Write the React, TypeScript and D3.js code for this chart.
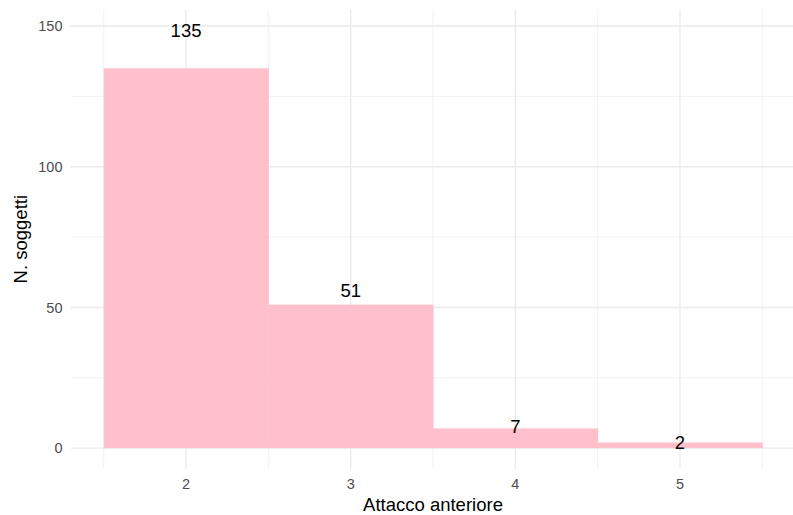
import React from "react";
import * as d3 from "d3";

const categories = [2, 3, 4, 5];
const counts = [135, 51, 7, 2];
const yTicks = [0, 50, 100, 150];
const yMinor = [25, 75, 125];
const xMinor = [1.5, 2.5, 3.5, 4.5, 5.5];

const W = 793;
const H = 515;

export default function App() {
  const x = d3.scaleLinear().domain([1.3, 5.7]).range([70.8, 795.2]);
  const y = d3.scaleLinear().domain([-7.425, 155.925]).range([469, 9.4]);
  const font = "'Liberation Sans', Arial, Helvetica, sans-serif";
  const grid = "#EBEBEB";
  return (
    <svg width={W} height={H} style={{ position: "absolute", left: 0, top: 0 }} fontFamily={font}>
      <rect width={W} height={H} fill="white" />
      {yMinor.map((v) => (
        <line key={"ym" + v} x1={x(1.3)} x2={x(5.7)} y1={y(v)} y2={y(v)} stroke={grid} strokeWidth={0.7} />
      ))}
      {xMinor.map((v) => (
        <line key={"xm" + v} x1={x(v)} x2={x(v)} y1={y(-7.425)} y2={y(155.925)} stroke={grid} strokeWidth={0.7} />
      ))}
      {yTicks.map((v) => (
        <line key={"y" + v} x1={x(1.3)} x2={x(5.7)} y1={y(v)} y2={y(v)} stroke={grid} strokeWidth={1.4} />
      ))}
      {categories.map((v) => (
        <line key={"x" + v} x1={x(v)} x2={x(v)} y1={y(-7.425)} y2={y(155.925)} stroke={grid} strokeWidth={1.4} />
      ))}
      {categories.map((c, i) => (
        <rect key={"b" + c} x={x(c - 0.5)} y={y(counts[i])} width={x(c + 0.5) - x(c - 0.5) + 0.5} height={y(0) - y(counts[i])} fill="#FFC0CB" />
      ))}
      {categories.map((c, i) => (
        <text key={"l" + c} x={x(c)} y={y(counts[i] * 1.1)} dy="0.36em" textAnchor="middle" fontSize={18.5} fill="black">
          {counts[i]}
        </text>
      ))}
      {yTicks.map((v) => (
        <text key={"yt" + v} x={62.5} y={y(v)} dy="0.36em" textAnchor="end" fontSize={14.5} fill="#4D4D4D">
          {v}
        </text>
      ))}
      {categories.map((v) => (
        <text key={"xt" + v} x={x(v)} y={484} dy="0.36em" textAnchor="middle" fontSize={14.5} fill="#4D4D4D">
          {v}
        </text>
      ))}
      <text x={433} y={511} textAnchor="middle" fontSize={18.5} fill="black">
        Attacco anteriore
      </text>
      <text transform={`translate(20,${y(74.25)}) rotate(-90)`} dy="0.36em" textAnchor="middle" fontSize={18.5} fill="black">
        N. soggetti
      </text>
    </svg>
  );
}
